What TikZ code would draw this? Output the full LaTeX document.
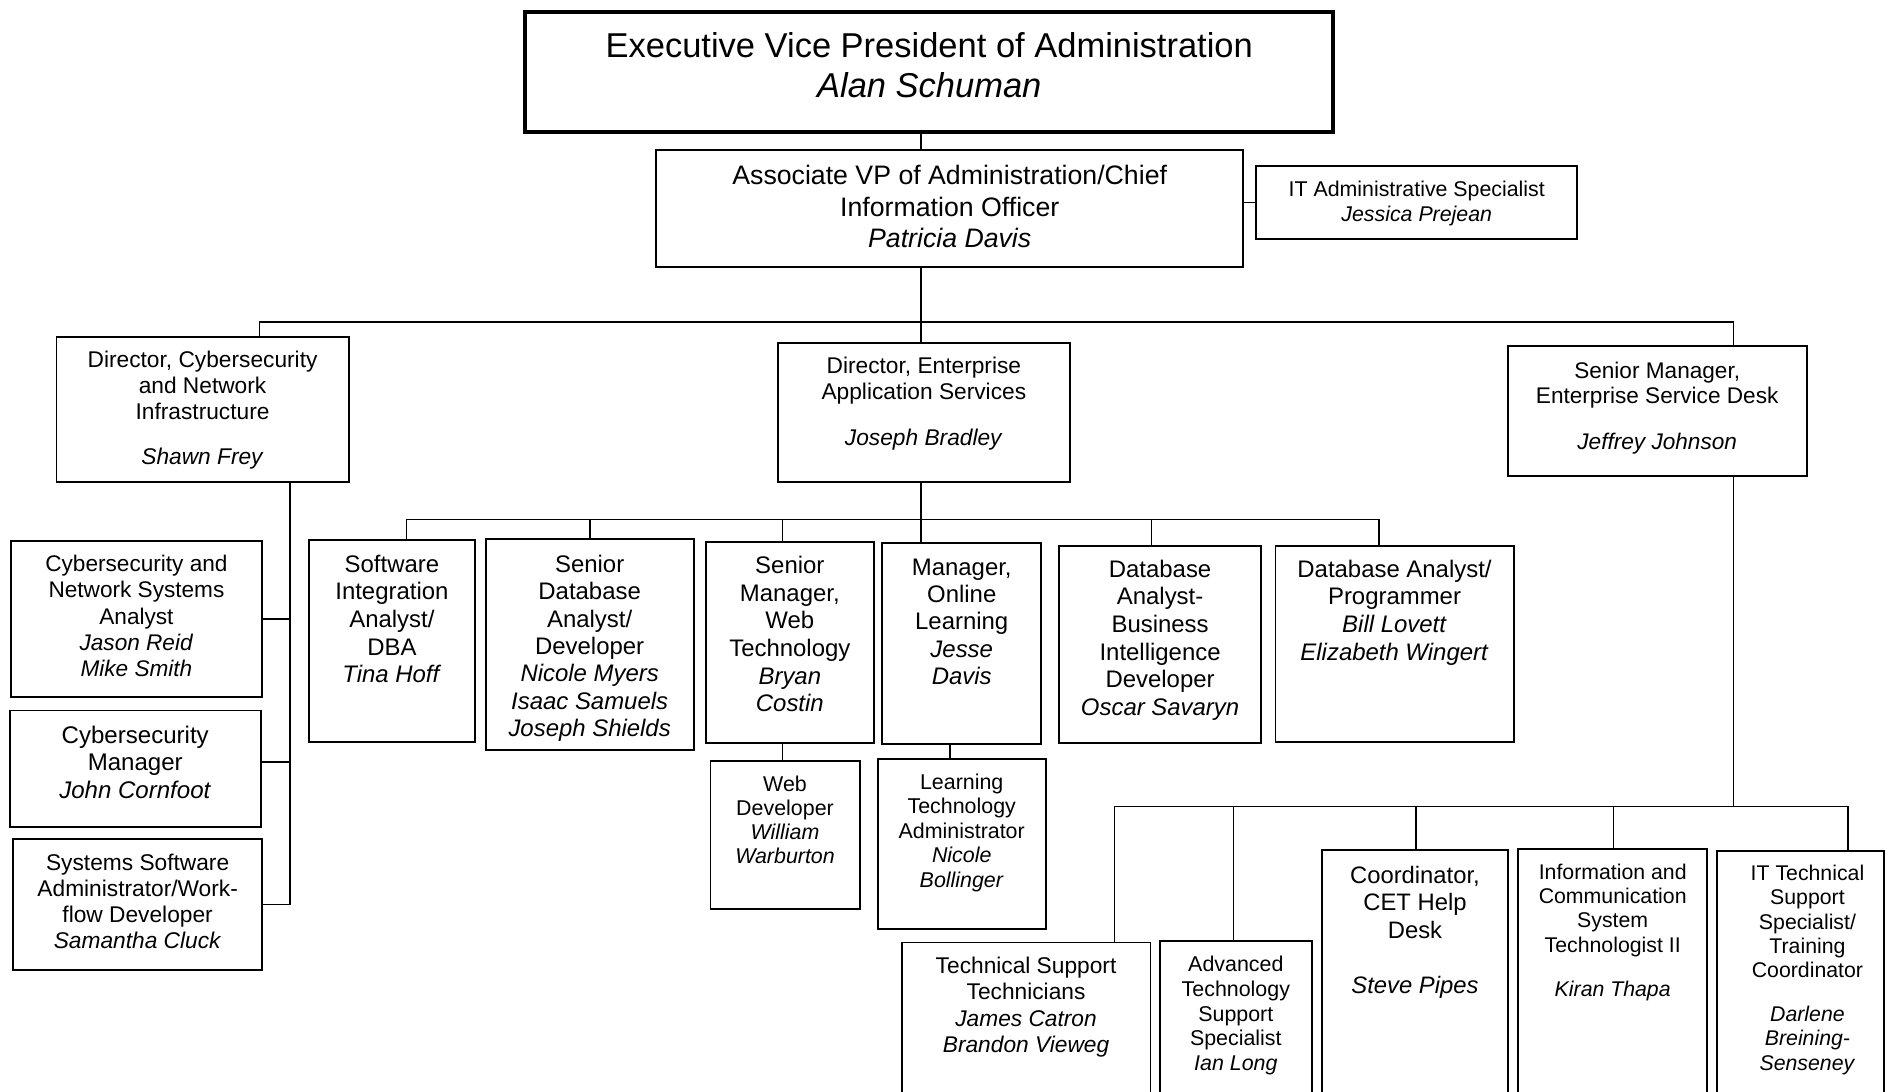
\documentclass[tikz,border=0pt]{standalone}
\usepackage{fontspec}
\setmainfont{Liberation Sans}
\tikzset{
  box/.style={draw=black, line width=1.15pt, inner sep=0pt, outer sep=0pt, fill=white},
  bigbox/.style={box, line width=2.3pt},
  txt/.style={align=center, inner sep=0pt, outer sep=0pt, text=black},
  link/.style={draw=black, line width=0.95pt},
}
\def\txoff{0}
% #1 name, #2 x1, #3 y1, #4 x2, #5 y2, #6 first line centre y, #7 font px, #8 line px, #9 text
\newcommand{\orgbox}[9]{%
  \pgfmathsetmacro\myfs{#7*0.7113}%
  \pgfmathsetmacro\myls{#8*0.7113}%
  \node[box, minimum width={(#4-#2)*0.025cm}, minimum height={(#5-#3)*0.025cm}, anchor=north west] (#1) at (#2,#3) {};
  \node[txt, font={\fontsize{\myfs pt}{\myls pt}\selectfont}, anchor=north] (#1-t) at ({(#2+#4)/2+\txoff},{#6-0.37*#7}) {#9};
}
\begin{document}
\begin{tikzpicture}[x=0.025cm, y=-0.025cm]
\useasboundingbox (0,0) rectangle (1568,908);
\clip (0,0) rectangle (1568,908);

% top
\node[bigbox, minimum width={(1109-437)*0.025cm}, minimum height={(110-10)*0.025cm}, anchor=north west] (evp) at (437,10) {};
\node[txt, font={\fontsize{20.4pt}{23.5pt}\selectfont}, anchor=north] (evp-t) at (773,{38-0.37*28.7}) {Executive Vice President of Administration\\\textit{Alan Schuman}};

\orgbox{avp}{546}{125}{1034}{222}{146}{22.2}{26}{Associate VP of Administration/Chief\\Information Officer\\\textit{Patricia Davis}}
\orgbox{itadm}{1045}{138}{1312}{199}{157}{17.75}{21}{IT Administrative Specialist\\\textit{Jessica Prejean}}

% directors
\orgbox{dcyber}{47}{280}{290}{401}{299}{18.9}{21.5}{Director, Cybersecurity\\and Network\\Infrastructure\\[11.7pt]\textit{Shawn Frey}}
\orgbox{dent}{647}{285}{890}{401}{304}{18.9}{22}{Director, Enterprise\\Application Services\\[11pt]\textit{Joseph Bradley}}
\orgbox{sesd}{1254}{288}{1503}{396}{308}{18.8}{21}{Senior Manager,\\Enterprise Service Desk\\[12pt]\textit{Jeffrey Johnson}}

% left column
\orgbox{csna}{9}{450}{218}{580}{469}{18.8}{21.7}{Cybersecurity and\\Network Systems\\Analyst\\\textit{Jason Reid}\\\textit{Mike Smith}}
\orgbox{csm}{8}{591}{217}{688}{611}{20}{23}{Cybersecurity\\Manager\\\textit{John Cornfoot}}
\orgbox{sss}{11}{698}{218}{807}{717}{18.9}{21.7}{Systems Software\\Administrator/Work-\\flow Developer\\\textit{Samantha Cluck}}

% enterprise application services
\orgbox{sia}{257}{449}{395}{617}{469}{19.9}{23}{Software\\Integration\\Analyst/\\DBA\\\textit{Tina Hoff}}
\orgbox{sdad}{404}{448}{577}{624}{469}{19.9}{22.8}{Senior\\Database\\Analyst/\\Developer\\\textit{Nicole Myers}\\\textit{Isaac Samuels}\\\textit{Joseph Shields}}
\orgbox{smwt}{587}{451}{727}{618}{470}{19.9}{23}{Senior\\Manager,\\Web\\Technology\\\textit{Bryan}\\\textit{Costin}}
\orgbox{mol}{734}{452}{866}{619}{472}{19.9}{22.8}{Manager,\\Online\\Learning\\\textit{Jesse}\\\textit{Davis}}
\orgbox{dabi}{881}{454}{1049}{618}{473}{19.9}{23}{Database\\Analyst-\\Business\\Intelligence\\Developer\\\textit{Oscar Savaryn}}
\orgbox{dap}{1061}{454}{1259}{617}{473}{19.9}{23}{Database Analyst/\\Programmer\\\textit{Bill Lovett}\\\textit{Elizabeth Wingert}}
\orgbox{wd}{591}{633}{715}{756}{652}{17.8}{20}{Web\\Developer\\\textit{William}\\\textit{Warburton}}
\orgbox{lta}{730}{631}{870}{773}{650}{17.8}{20.5}{Learning\\Technology\\Administrator\\\textit{Nicole}\\\textit{Bollinger}}

% enterprise service desk
\orgbox{tst}{750}{784}{957}{930}{803}{18.9}{22}{Technical Support\\Technicians\\\textit{James Catron}\\\textit{Brandon Vieweg}}
\orgbox{atss}{965}{783}{1091}{930}{802}{17.8}{20.5}{Advanced\\Technology\\Support\\Specialist\\\textit{Ian Long}}
\orgbox{cet}{1100}{707}{1254}{930}{728}{19.8}{22.7}{Coordinator,\\CET Help\\Desk\\[16.6pt]\textit{Steve Pipes}}
\orgbox{icst}{1263}{706}{1420}{930}{725}{17.7}{20.3}{Information and\\Communication\\System\\Technologist II\\[11.9pt]\textit{Kiran Thapa}}
\def\txoff{6}
\orgbox{itts}{1428}{708}{1567}{930}{726}{17.7}{20.3}{IT Technical\\Support\\Specialist/\\Training\\Coordinator\\[11.2pt]\textit{Darlene}\\\textit{Breining-}\\\textit{Senseney}}
\def\txoff{0}

% connector helper coordinates
\coordinate (c766) at (766,0);
\coordinate (b1L) at (216,268);
\coordinate (b1R) at (1442,268);
\coordinate (lc) at (241,0);
\coordinate (lc2) at (241,634);
\coordinate (b2L) at (338,432);
\coordinate (b2R) at (1147,432);
\coordinate (x491) at (491,432);
\coordinate (x651) at (651,432);
\coordinate (x958) at (958,432);
\coordinate (x790) at (790,0);
\coordinate (b3) at (1442,671);
\coordinate (b3L) at (927,671);
\coordinate (b3R) at (1537,671);
\coordinate (x1026) at (1026,671);
\coordinate (x1178) at (1178,671);
\coordinate (x1342) at (1342,671);

% connectors
\draw[link] (evp.south -| c766) -- (avp.north -| c766);
\draw[link] (avp.east |- itadm.west) -- (itadm.west);
\draw[link] (avp.south -| c766) -- (dent.north -| c766);
\draw[link] (dcyber.north -| b1L) -- (b1L) -- (b1R) -- (sesd.north -| b1R);

\draw[link] (dcyber.south -| lc) -- (sss.east -| lc) -- (sss.east);
\draw[link] (csna.east) -- (csna.east -| lc);
\draw[link] (csm.east |- lc2) -- (lc2);

\draw[link] (dent.south -| c766) -- (mol.north -| c766);
\draw[link] (sia.north -| b2L) -- (b2L) -- (b2R) -- (dap.north -| b2R);
\draw[link] (x491) -- (sdad.north -| x491);
\draw[link] (x651) -- (smwt.north -| x651);
\draw[link] (x958) -- (dabi.north -| x958);
\draw[link] (smwt.south -| x651) -- (wd.north -| x651);
\draw[link] (mol.south -| x790) -- (lta.north -| x790);

\draw[link] (sesd.south -| b3) -- (b3);
\draw[link] (tst.north -| b3L) -- (b3L) -- (b3R) -- (itts.north -| b3R);
\draw[link] (x1026) -- (atss.north -| x1026);
\draw[link] (x1178) -- (cet.north -| x1178);
\draw[link] (x1342) -- (icst.north -| x1342);
\end{tikzpicture}
\end{document}
